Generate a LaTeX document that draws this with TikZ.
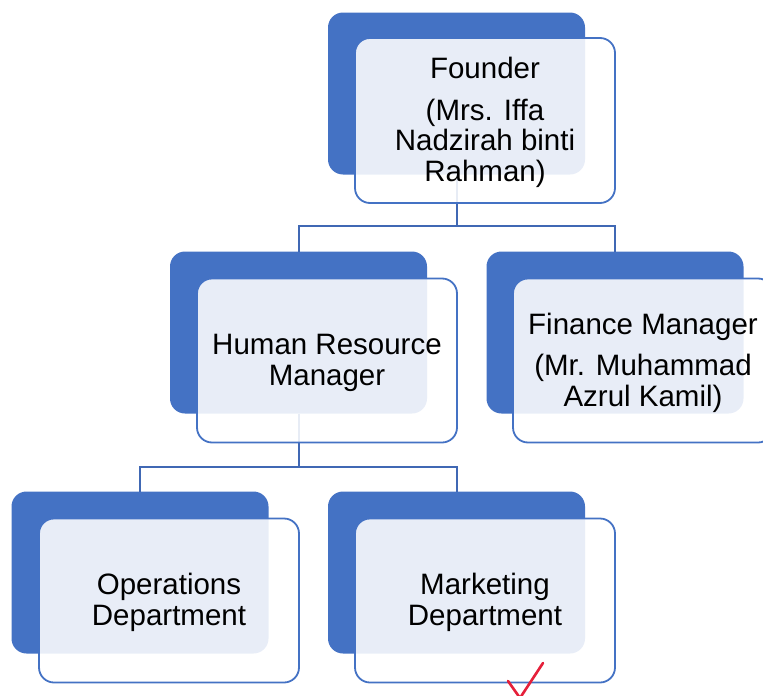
\documentclass[tikz,border=0pt]{standalone}
\usepackage{fontspec}
\setmainfont{Liberation Sans}
\definecolor{accent}{HTML}{4472C4}
\definecolor{linkblue}{HTML}{4068B4}
\definecolor{tick}{HTML}{E5203A}
\begin{document}
\begin{tikzpicture}[x=1pt,y=-1pt,
  backbox/.style={rectangle, rounded corners=15pt, fill=accent, draw=none,
    minimum width=257pt, minimum height=162pt, inner sep=0pt, outer sep=0pt},
  frontbox/.style={rectangle, rounded corners=15pt, draw=accent, line width=1.8pt,
    fill=white, fill opacity=0.88,
    minimum width=260pt, minimum height=164pt, inner sep=0pt, outer sep=0pt},
  cardtext/.style={align=center, inner sep=0pt,
    font=\fontsize{29.5}{30.5}\selectfont},
  link/.style={draw=linkblue, line width=2pt}]
\useasboundingbox (0,0) rectangle (763,696);

% coloured back plates
\node[backbox] (fb) at (456.5,93.5) {};
\node[backbox] (hb) at (298.5,332.5) {};
\node[backbox] (mb) at (615,332.5) {};
\node[backbox] (ob) at (140,572.5) {};
\node[backbox] (kb) at (456.5,572.5) {};

% reporting lines
\draw[link] (fb.south) -- ++(0,51) -| (hb.north);
\draw[link] (fb.south) -- ++(0,51) -| (mb.north);
\draw[link] (hb.south) -- ++(0,53) -| (ob.north);
\draw[link] (hb.south) -- ++(0,53) -| (kb.north);

% translucent front cards
\node[frontbox, minimum height=165pt] (f) at (485,120.5) {};
\node[frontbox] (h) at (327,360.5) {};
\node[frontbox] (m) at (643,360.5) {};
\node[frontbox] (o) at (169,600.5) {};
\node[frontbox] (k) at (485,600.5) {};

% titles on the cards (a small downward nudge)
\node[cardtext] (ft) at ([yshift=-2pt]f.center)
  {Founder\\[11pt](Mrs. Iffa\\Nadzirah binti\\Rahman)};
\node[cardtext] (ht) at ([yshift=-2.5pt]h.center) {Human Resource\\Manager};
\node[cardtext] (mt) at ([yshift=-2pt]m.center)
  {Finance Manager\\[11pt](Mr. Muhammad\\Azrul Kamil)};
\node[cardtext] (ot) at ([yshift=-2pt]o.center) {Operations\\Department};
\node[cardtext] (kt) at ([yshift=-2pt]k.center) {Marketing\\Department};

% hand-drawn tick
\draw[tick, line width=2.6pt, line cap=round, line join=round]
  (508,681) -- (520,698) -- (543,663);
\end{tikzpicture}
\end{document}
